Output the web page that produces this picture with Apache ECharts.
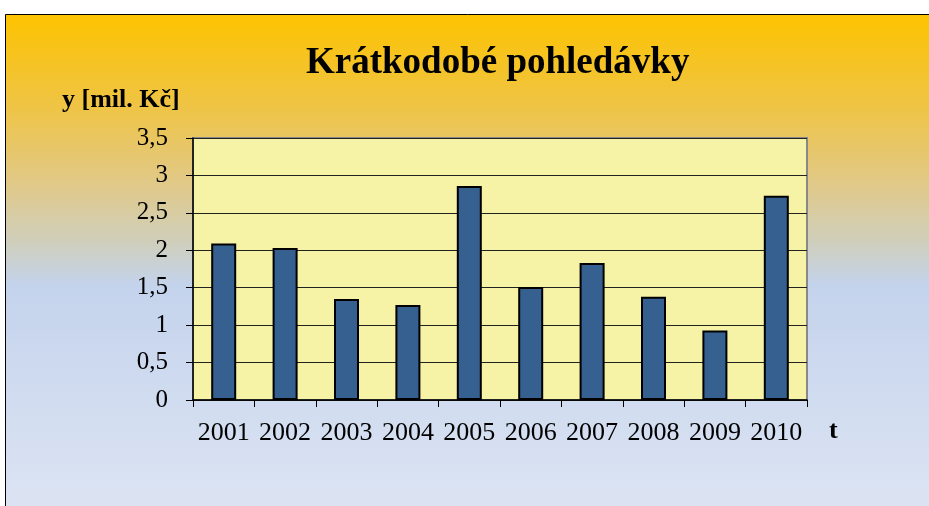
<!DOCTYPE html>
<html>
<head>
<meta charset="utf-8">
<script src="https://cdn.jsdelivr.net/npm/echarts@6/dist/echarts.min.js"></script>
<style>
  html, body { margin: 0; padding: 0; background: #fff; }
  #chart { width: 929px; height: 506px; }
</style>
</head>
<body>
<div id="chart"></div>
<script>
// data
var roky = ['2001', '2002', '2003', '2004', '2005', '2006', '2007', '2008', '2009', '2010'];
var pohledavky = [2.09, 2.03, 1.35, 1.27, 2.86, 1.51, 1.83, 1.38, 0.93, 2.73];

var serif = '"Liberation Serif", "DejaVu Serif", serif';

var chart = echarts.init(document.getElementById('chart'));

var option = {
  animation: false,
  backgroundColor: '#fff',
  graphic: [
    {
      type: 'rect',
      z: -10,
      shape: { x: 5.5, y: 14.5, width: 940, height: 520 },
      style: {
        stroke: '#000',
        lineWidth: 1,
        fill: {
          type: 'linear', x: 0, y: 0, x2: 0, y2: 1,
          colorStops: [
            { offset: 0, color: '#fdc300' },
            { offset: 0.18, color: '#efc446' },
            { offset: 0.33, color: '#e0c98a' },
            { offset: 0.44, color: '#cfcfbd' },
            { offset: 0.52, color: '#c4d3ec' },
            { offset: 1, color: '#dfe6f4' }
          ]
        }
      }
    },
    {
      type: 'text',
      left: 62,
      top: 87,
      style: { text: 'y [mil. Kč]', font: 'bold 26px ' + serif, fill: '#000' }
    },
    {
      type: 'text',
      left: 829,
      top: 418,
      style: { text: 't', font: 'bold 26px ' + serif, fill: '#000' }
    }
  ],
  title: {
    text: 'Krátkodobé pohledávky',
    left: 301,
    top: 40,
    textStyle: {
      fontFamily: serif,
      fontWeight: 'bold',
      fontSize: 37,
      color: '#000'
    }
  },
  grid: {
    left: 193,
    right: 122,
    top: 138,
    bottom: 106,
    show: true,
    backgroundColor: '#f7f3a6',
    borderColor: '#888',
    borderWidth: 2
  },
  xAxis: {
    type: 'category',
    data: roky,
    axisLine: { show: true, lineStyle: { color: '#000', width: 1.5 } },
    axisTick: { show: true, length: 7, lineStyle: { color: '#000' } },
    axisLabel: {
      interval: 0,
      hideOverlap: false,
      margin: 20,
      fontFamily: serif,
      fontSize: 26,
      color: '#000'
    }
  },
  yAxis: {
    type: 'value',
    min: 0,
    max: 3.5,
    interval: 0.5,
    axisLine: { show: true, lineStyle: { color: '#000', width: 1.5 } },
    axisTick: { show: true, length: 7, lineStyle: { color: '#000' } },
    splitLine: { show: true, lineStyle: { color: '#222', width: 1 } },
    axisLabel: {
      margin: 25,
      fontFamily: serif,
      fontSize: 25,
      color: '#000',
      formatter: function (v) { return String(v).replace('.', ','); }
    }
  },
  series: [{
    type: 'bar',
    data: pohledavky,
    barWidth: 25,
    itemStyle: {
      color: '#36608f',
      borderColor: '#000',
      borderWidth: 2
    }
  }]
};

chart.setOption(option);
</script>
</body>
</html>
